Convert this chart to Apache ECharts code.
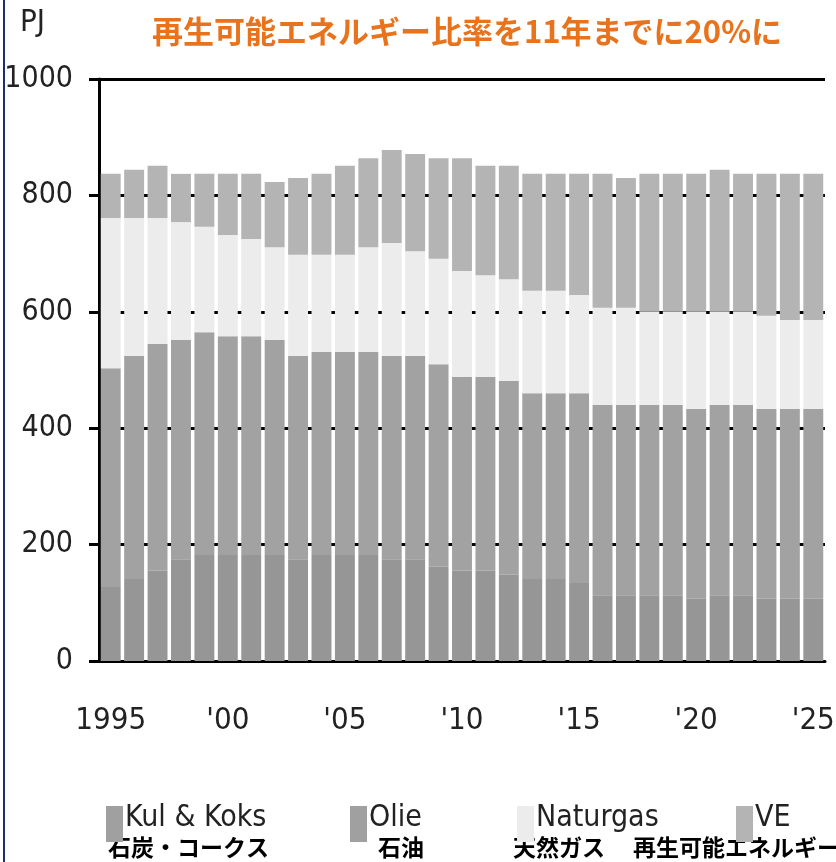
<!DOCTYPE html>
<html>
<head>
<meta charset="utf-8">
<script src="https://cdn.jsdelivr.net/npm/echarts@6/dist/echarts.min.js"></script>
<style>
  html, body { margin: 0; padding: 0; background: #fff; }
  #chart { width: 836px; height: 862px; }
</style>
</head>
<body>
<div id="chart"></div>
<script>
// years on the category axis
const years = [1995, 1996, 1997, 1998, 1999, 2000, 2001, 2002, 2003, 2004, 2005,
  2006, 2007, 2008, 2009, 2010, 2011, 2012, 2013, 2014, 2015,
  2016, 2017, 2018, 2019, 2020, 2021, 2022, 2023, 2024, 2025]
const xTickLabels = ['1995', "'00", "'05", "'10", "'15", "'20", "'25"]
const yTickLabels = [0, 200, 400, 600, 800, 1000]

// PJ, stacked
const kulKoks = [127, 141, 155, 175, 182, 182, 182, 182, 175, 182, 182,
  182, 175, 175, 162, 155, 155, 148, 141, 141, 134,
  113, 113, 113, 113, 107, 113, 113, 107, 107, 107]
const olie = [376, 383, 390, 377, 383, 376, 376, 370, 349, 349, 349,
  349, 349, 349, 348, 333, 333, 333, 319, 319, 326,
  327, 327, 327, 327, 326, 327, 327, 326, 326, 326]
const naturgas = [258, 237, 216, 202, 181, 174, 167, 159, 174, 167, 167,
  180, 194, 180, 181, 182, 175, 175, 176, 176, 169,
  167, 167, 160, 160, 167, 160, 160, 160, 153, 153]
const ve = [76, 83, 90, 83, 91, 105, 112, 112, 132, 139, 153,
  153, 160, 167, 173, 194, 188, 195, 201, 201, 208,
  230, 223, 237, 237, 237, 244, 237, 244, 251, 251]

const seriesNames = ['Kul & Koks', 'Olie', 'Naturgas', 'VE']
const seriesJa = ['石炭・コークス', '石油', '天然ガス', '再生可能エネルギー']
const titleText = '再生可能エネルギー比率を11年までに20%に'

// condensed face of DejaVu Sans, asked for through the weight slot of the canvas font string
const narrow = "'DejaVu Sans Condensed', 'DejaVu Sans', sans-serif"
const narrowWeight = 'condensed'
const cjk = "'Noto Sans CJK JP', 'Noto Sans CJK SC', sans-serif"

const barColors = ['#969696', '#a2a2a2', '#ececec', '#b4b4b4']
const swatchColors = ['#a0a0a0', '#a0a0a0', '#ececec', '#b4b4b4']
const legendLeft = [101, 345, 512, 731]
const jaLeft = [108, 378, 513, 633]

const chart = echarts.init(document.getElementById('chart'))

// one legend per series so each sits where it does in the original
const legends = seriesNames.map((name, i) => ({
  left: legendLeft[i],
  top: 798,
  orient: 'horizontal',
  icon: 'rect',
  itemWidth: 17,
  itemHeight: 36,
  itemGap: 0,
  selectedMode: false,
  formatter: n => '{a|' + n + '}\n{b| }',
  textStyle: {
    padding: [0, 0, 0, -3],
    rich: {
      a: { fontFamily: narrow, fontWeight: narrowWeight, fontSize: 30, color: '#222', lineHeight: 30 },
      b: { fontSize: 4, lineHeight: 12 }
    }
  },
  data: [{ name: name, itemStyle: { color: swatchColors[i] } }]
}))

chart.setOption({
  animation: false,
  title: {
    text: titleText,
    left: 147,
    top: 11,
    textStyle: { fontFamily: cjk, fontSize: 31, fontWeight: 'bold', color: '#e8731c' }
  },
  legend: legends,
  grid: {
    left: 99,
    right: 11,
    top: 79,
    bottom: 201,
    containLabel: false,
    outerBoundsMode: 'none'
  },
  xAxis: {
    type: 'category',
    data: years,
    axisLine: { lineStyle: { color: '#000', width: 3 } },
    axisTick: { interval: 0, length: 18, lineStyle: { color: '#000', width: 2 } },
    axisLabel: {
      interval: 4,
      margin: 44,
      fontFamily: narrow,
      fontWeight: narrowWeight,
      fontSize: 31,
      color: '#222',
      formatter: (v, idx) => xTickLabels[idx / 5]
    },
    splitLine: { show: false }
  },
  yAxis: {
    type: 'value',
    min: yTickLabels[0],
    max: yTickLabels[yTickLabels.length - 1],
    interval: 200,
    axisLine: { show: true, lineStyle: { color: '#000', width: 3 } },
    axisTick: { show: true, length: 10, lineStyle: { color: '#000', width: 3 } },
    axisLabel: {
      margin: 26,
      fontFamily: narrow,
      fontWeight: narrowWeight,
      fontSize: 30,
      color: '#222',
      formatter: v => String(v)
    },
    splitLine: { show: true, lineStyle: { color: '#000', width: 3 } }
  },
  series: [kulKoks, olie, naturgas, ve].map((d, i) => ({
    name: seriesNames[i],
    type: 'bar',
    stack: 'energy',
    barCategoryGap: '15%',
    data: d,
    itemStyle: { color: barColors[i] },
    emphasis: { disabled: true }
  })),
  graphic: [
    { type: 'rect', left: 3, top: 0, shape: { width: 2, height: 862 }, style: { fill: '#1b2f6b' } },
    { type: 'text', left: 20, top: 7, style: { text: 'PJ', fontFamily: narrow, fontWeight: narrowWeight, fontSize: 31, fill: '#222' } }
  ].concat(seriesJa.map((t, i) => ({
    type: 'text',
    left: jaLeft[i],
    top: 836,
    style: { text: t, fontFamily: cjk, fontSize: 23, fontWeight: 'bold', fill: '#000' }
  })))
})
</script>
</body>
</html>
